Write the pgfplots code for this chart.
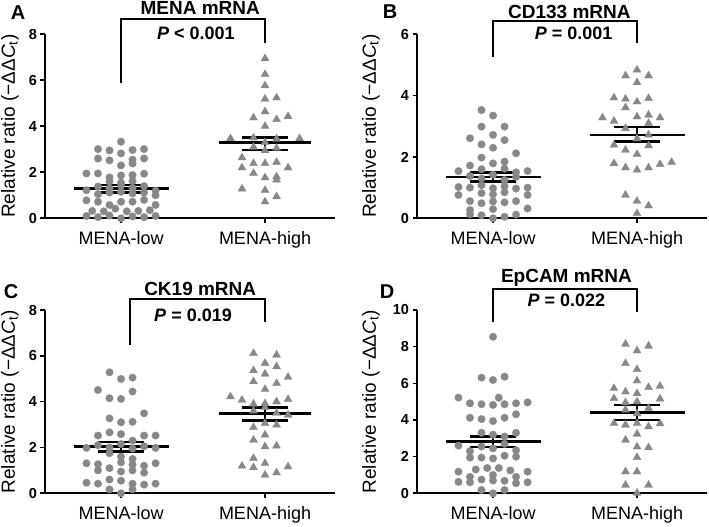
\documentclass[border=0pt]{standalone}
\usepackage{pgfplots}
\pgfplotsset{compat=1.18}
\usepackage{fontspec}
\setmainfont{Liberation Sans}
\definecolor{mk}{RGB}{136,136,136}
\newcommand{\tickfont}{\fontsize{14.5}{14.5}\selectfont\bfseries}
\newcommand{\labfont}{\fontsize{18}{18}\selectfont}
\newcommand{\ylabfont}{\fontsize{19}{19}\selectfont}
\newcommand{\ttlfont}{\fontsize{19}{19}\selectfont\bfseries}
\newcommand{\pfont}{\fontsize{18}{18}\selectfont\bfseries}
\pgfplotsset{
  dot/.style={only marks, mark=*, mark size=3.8pt, mark options={draw=mk, fill=mk, line width=0.2pt}},
  tri/.style={only marks, mark=triangle*, mark size=4.7pt, mark options={draw=mk, fill=mk, line width=0.2pt}},
  msl/.style={black, line width=2.4pt, unbounded coords=jump, no marks},
  brk/.style={black, line width=2pt, no marks},
  panel/.style={
    scale only axis, width=290pt,
    xmin=-0.528, xmax=1.486, ymin=0,
    axis x line=bottom, axis y line=left,
    axis line style={-, line width=1.8pt, black},
    xtick={0,1}, xticklabels={MENA-low,MENA-high},
    tick align=outside, major tick length=4.5pt,
    every tick/.style={black, line width=1.6pt},
    xticklabel style={font=\labfont, yshift=-5pt},
    yticklabel style={font=\tickfont},
    /pgf/number format/assume math mode=true,
    ylabel={Relative ratio (−ΔΔ\textit{C}\textsubscript{t})},
    clip=false,
  }
}
\begin{document}
\begin{tikzpicture}
\path[use as bounding box] (0,0) rectangle (709pt,527pt);
% ---------------- A
\begin{axis}[panel, at={(45pt,308.7pt)}, anchor=south west, height=184pt, ymax=8, ytick={0,2,4,6,8},
  ylabel style={font=\ylabfont, at={(axis description cs:-0.1207,0.5)}, anchor=center}]
\addplot[dot] coordinates {
(0,3.33)
(-0.16,3.01) (-0.08,2.95) (0.08,2.97) (0.16,3.01)
(0,2.82)
(-0.16,2.6) (-0.08,2.52) (0.08,2.55) (0.16,2.6)
(0,2.3) (0.08,2.38)
(-0.24,1.95) (-0.16,1.95) (-0.08,1.78) (0,1.86) (0.08,1.88) (0.16,1.94)
(-0.08,1.6) (0,1.55) (0.08,1.62)
(-0.24,1.22) (-0.16,1.38) (-0.08,1.3) (0,1.42) (0.08,1.32) (0.16,1.4) (0.24,1.2)
(-0.16,1.05) (-0.08,1.12) (0,1.15) (0.08,1.08) (0.16,1.12) (0.24,1.0)
(-0.24,0.78) (-0.16,0.72) (-0.08,0.58) (0,0.72) (0.08,0.72) (0.16,0.8) (0.24,0.58)
(-0.2,0.32) (-0.12,0.3) (-0.04,0.42) (0.04,0.3) (0.12,0.32) (0.2,0.35)
(-0.24,0.1) (-0.16,0.05) (-0.08,0.12) (0,0.0) (0.08,0.08) (0.16,0.05) (0.24,0.1)
};
\addplot[tri] coordinates {
(1,6.95)(1,6.26)(1,5.77)(1,5.19)(1.08,5.24)(1,4.64)(0.92,4.37)(1.08,4.3)(1.16,4.43)(1,4.0)
(0.76,3.47)(0.92,3.5)(1.08,3.45)(1.24,3.47)(1,3.3)(1.08,3.05)(0.92,3.1)(1,2.95)
(0.84,2.64)(0.84,2.2)(0.92,2.39)(1,2.39)(1.08,2.44)(1.16,2.2)
(0.92,1.96)(1,1.77)(1.08,1.81)(1.08,1.67)
(0.84,1.28)(1,1.22)(1.08,0.95)(1,0.72)
};
\addplot[msl] coordinates {(-0.33,1.29)(0.33,1.29)(nan,nan)(-0.16,1.46)(0.16,1.46)(nan,nan)(-0.16,1.12)(0.16,1.12)(nan,nan)(0,1.12)(0,1.46)};
\addplot[msl] coordinates {(0.68,3.29)(1.32,3.29)(nan,nan)(0.84,3.52)(1.16,3.52)(nan,nan)(0.84,2.97)(1.16,2.97)(nan,nan)(1,2.97)(1,3.52)};
\addplot[brk] coordinates {(0,5.87)(0,8.65)(1,8.65)(1,7.6)};
\node[font=\ttlfont] at (axis cs:0.55,9.13) {MENA mRNA};
\node[font=\pfont] at (axis cs:0.52,8.04) {\textit{P} < 0.001};
\end{axis}
% ---------------- B
\begin{axis}[panel, at={(417pt,308.7pt)}, anchor=south west, height=184pt, ymax=6, ytick={0,2,4,6},
  ylabel style={font=\ylabfont, at={(axis description cs:-0.159,0.5)}, anchor=center}]
\addplot[dot] coordinates {
(-0.08,3.53)(0,3.35)
(-0.08,2.99)(0.08,2.99)
(-0.16,2.61)(0,2.72)(0.08,2.55)
(-0.08,2.41)(0,2.3)
(0.16,2.12)
(-0.08,1.98)(0.08,1.85)(0,1.79)(-0.16,1.72)
(-0.24,1.54)(0.24,1.54)(-0.08,1.6)(0.08,1.62)(0.16,1.5)
(-0.16,1.38)(-0.08,1.3)(0,1.42)(0.08,1.25)(0.16,1.35)
(-0.24,1.02)(-0.16,1.0)(-0.08,1.08)(0,0.98)(0.08,1.05)(0.16,0.97)(0.24,1.0)
(-0.24,0.76)(-0.08,0.82)(0,0.78)(0.08,0.85)(0.24,0.76)
(-0.16,0.56)(-0.08,0.49)(0,0.55)(0.08,0.52)(0.16,0.56)
(-0.16,0.27)(0,0.3)(0.24,0.32)
(-0.16,0.13)(-0.08,0.1)(0.08,0.05)(0.16,0.12)
(0,0.0)
};
\addplot[tri] coordinates {
(1,4.84)(0.92,4.65)(1.08,4.65)(1,4.43)
(0.84,3.93)(0.92,3.89)(1,3.8)(1.08,3.91)(0.92,3.61)
(0.76,3.28)(0.84,3.17)(1,3.31)(1.08,3.37)(1.16,3.28)(1.08,3.1)(0.92,2.93)
(1,2.6)(1.08,2.72)
(0.84,2.39)(0.92,2.23)(1,2.09)(1.08,2.37)
(0.84,1.79)(0.92,1.65)(1,1.58)(1.08,1.65)(1.16,1.76)(1.24,1.83)
(0.92,0.76)(1,0.56)(1.08,0.41)(1,0.16)
};
\addplot[msl] coordinates {(-0.33,1.34)(0.33,1.34)(nan,nan)(-0.16,1.49)(0.16,1.49)(nan,nan)(-0.16,1.2)(0.16,1.2)(nan,nan)(0,1.2)(0,1.49)};
\addplot[msl] coordinates {(0.67,2.72)(1.33,2.72)(nan,nan)(0.84,2.97)(1.16,2.97)(nan,nan)(0.84,2.5)(1.16,2.5)(nan,nan)(1,2.5)(1,2.97)};
\addplot[brk] coordinates {(0,5.26)(0,6.43)(1,6.43)(1,5.73)};
\node[font=\ttlfont] at (axis cs:0.53,6.74) {CD133 mRNA};
\node[font=\pfont] at (axis cs:0.56,6.03) {\textit{P} = 0.001};
\end{axis}
% ---------------- C
\begin{axis}[panel, at={(45pt,33.7pt)}, anchor=south west, height=183.3pt, ymax=8, ytick={0,2,4,6,8},
  ylabel style={font=\ylabfont, at={(axis description cs:-0.1207,0.5)}, anchor=center}]
\addplot[dot] coordinates {
(-0.08,5.28)(0,4.99)(0.08,5.05)
(-0.16,4.51)(0.08,4.44)(-0.08,4.15)(0,4.12)
(0.16,3.49)
(-0.08,3.27)(0,3.1)(0.08,3.12)
(-0.16,2.52)(-0.08,2.66)(0,2.58)(0.16,2.52)(0.24,2.52)(0.08,2.3)
(-0.24,1.98)(0.24,1.98)(-0.16,2.1)(-0.08,2.0)(0,2.15)(0.08,1.95)(0.16,2.05)
(-0.08,1.75)(0,1.6)(0.08,1.5)
(-0.24,1.31)(-0.16,1.27)(0,1.35)(0.16,1.2)(0.24,1.31)(0.08,1.25)
(-0.16,1.0)(-0.08,1.1)(0,0.95)(0.08,1.0)(0.16,0.9)
(-0.24,0.46)(-0.16,0.42)(-0.08,0.6)(0,0.55)(0.08,0.42)(0.16,0.38)(0.24,0.42)
(-0.08,0.17)(0,0.0)(0.08,0.17)
};
\addplot[tri] coordinates {
(0.92,6.11)(1.08,6.04)(1,5.68)(0.92,5.36)(1.08,5.53)(1,5.21)(1.16,5.07)
(0.92,4.88)(1.08,4.8)(1,4.54)
(0.76,4.22)(0.84,4.07)(0.92,3.9)(1,3.92)(1.08,4.0)(1.16,4.1)
(0.92,3.6)(1,3.75)(1.08,3.5)(1.16,3.42)
(0.92,2.88)(1,3.06)(1.08,2.98)
(0.92,2.33)(1,2.55)(1,2.04)(1.08,2.07)
(0.92,1.53)(0.84,1.19)(0.92,1.13)(1,1.31)(1,0.8)(1.08,0.9)(1.16,1.16)
};
\addplot[msl] coordinates {(-0.33,2.04)(0.33,2.04)(nan,nan)(-0.16,2.25)(0.16,2.25)(nan,nan)(-0.16,1.82)(0.16,1.82)(nan,nan)(0,1.82)(0,2.25)};
\addplot[msl] coordinates {(0.68,3.48)(1.32,3.48)(nan,nan)(0.84,3.75)(1.16,3.75)(nan,nan)(0.84,3.17)(1.16,3.17)(nan,nan)(1,3.17)(1,3.75)};
\addplot[brk] coordinates {(0.06,6.48)(0.06,8.47)(1,8.47)(1,7.49)};
\node[font=\ttlfont] at (axis cs:0.55,8.91) {CK19 mRNA};
\node[font=\pfont] at (axis cs:0.5,7.79) {\textit{P} = 0.019};
\end{axis}
% ---------------- D
\begin{axis}[panel, at={(417pt,33.7pt)}, anchor=south west, height=183.3pt, ymax=10, ytick={0,2,4,6,8,10},
  ylabel style={font=\ylabfont, at={(axis description cs:-0.159,0.5)}, anchor=center}]
\addplot[dot] coordinates {
(0,8.54)
(-0.08,6.31)(0,6.18)(0.08,6.36)
(-0.24,5.22)(0.04,5.22)(-0.16,4.91)(-0.08,4.86)(0,4.82)(0.08,4.86)(0.16,4.91)(0.24,4.96)
(-0.16,4.12)(-0.08,4.05)(0,3.94)(0.08,4.12)(0.16,4.31)
(-0.08,3.3)(0,3.2)(0.08,3.1)(0.16,3.3)
(-0.24,2.6)(-0.16,2.3)(-0.08,2.55)(0,2.45)(0.08,2.7)(0.16,2.35)
(-0.16,1.95)(-0.08,1.95)(0,1.9)(0.08,2.05)(0.16,2.0)
(-0.12,1.3)(-0.04,1.38)(0.04,1.38)(0.12,1.25)(-0.24,1.18)(0.24,1.18)
(-0.16,0.9)(0,1.0)(0.16,0.9)
(-0.24,0.62)(-0.16,0.6)(-0.08,0.75)(0,0.7)(0.08,0.68)(0.16,0.55)(0.24,0.6)
(-0.08,0.18)(0,0.0)(0.08,0.18)
};
\addplot[tri] coordinates {
(0.92,8.14)(1,7.78)(1.08,8.04)
(0.92,7.09)(1,6.76)(1,6.14)
(0.84,5.73)(0.92,5.54)(1,5.45)(1.08,5.78)(1.16,5.85)
(0.84,5.18)(1.16,5.15)(0.92,4.95)(1,5.0)(1.08,4.64)(0.92,4.55)(1,4.35)
(0.84,3.82)(0.92,3.73)(1,3.82)(1.08,3.64)(1.16,3.8)
(0.92,2.91)(1,3.24)(1,2.54)(1.08,2.5)
(1,1.96)
(0.92,1.18)(1,1.18)
(0.92,0.45)(1.08,0.45)(1,0.02)
};
\addplot[msl] coordinates {(-0.33,2.82)(0.33,2.82)(nan,nan)(-0.16,3.09)(0.16,3.09)(nan,nan)(-0.16,2.51)(0.16,2.51)(nan,nan)(0,2.51)(0,3.09)};
\addplot[msl] coordinates {(0.67,4.4)(1.33,4.4)(nan,nan)(0.84,4.82)(1.16,4.82)(nan,nan)(0.84,4.0)(1.16,4.0)(nan,nan)(1,4.0)(1,4.82)};
\addplot[brk] coordinates {(0,9.36)(0,11.13)(1,11.13)(1,9.9)};
\node[font=\ttlfont] at (axis cs:0.51,11.73) {EpCAM mRNA};
\node[font=\pfont] at (axis cs:0.51,10.51) {\textit{P} = 0.022};
\end{axis}
% panel letters
\node[font=\fontsize{20}{20}\selectfont\bfseries] at (18pt,514pt) {A};
\node[font=\fontsize{20}{20}\selectfont\bfseries] at (390pt,515pt) {B};
\node[font=\fontsize{20}{20}\selectfont\bfseries] at (11pt,235pt) {C};
\node[font=\fontsize{20}{20}\selectfont\bfseries] at (387pt,235pt) {D};
\end{tikzpicture}
\end{document}
